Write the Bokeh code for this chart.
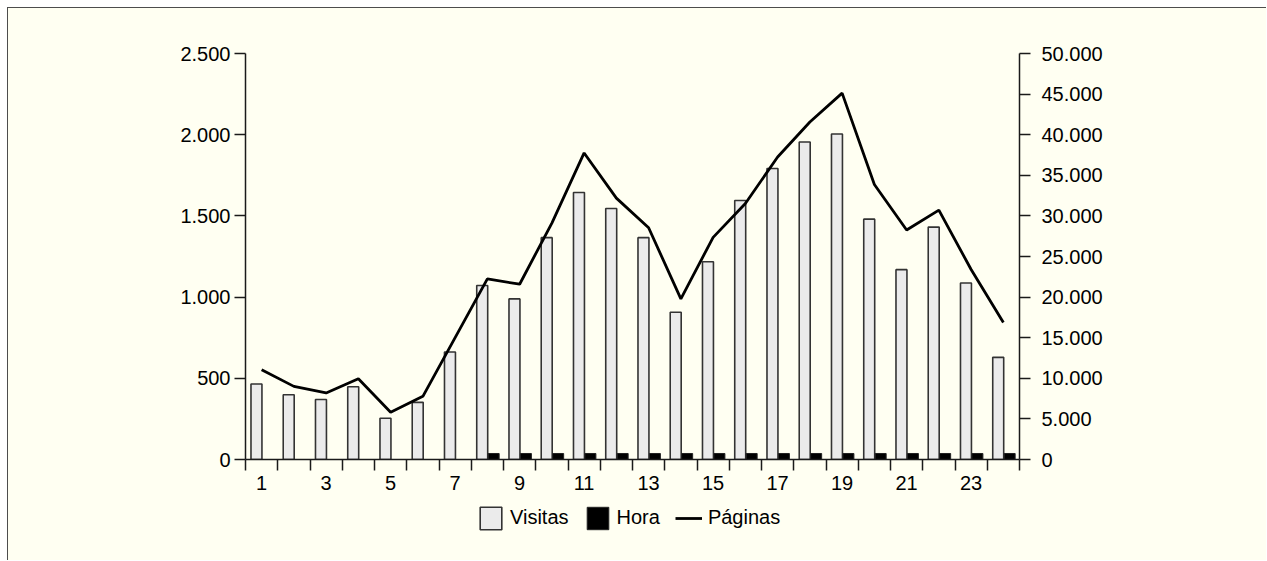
import numpy as np
from bokeh.plotting import figure
from bokeh.layouts import column
from bokeh.models import (Range1d, LinearAxis, FixedTicker, Legend, LegendItem,
                          ColumnDataSource)
from bokeh.transform import dodge
from bokeh.embed import file_html
from bokeh.resources import INLINE

# ---- data ----
hours = list(range(1, 25))
visitas = [465, 399, 369, 448, 254, 352, 662, 1071, 989, 1366, 1644, 1546,
           1366, 907, 1218, 1595, 1792, 1955, 2004, 1480, 1169, 1431, 1087, 629]
hora = [np.nan, np.nan, np.nan, np.nan, np.nan, np.nan, np.nan, 37, 37, 37, 37, 37,
        37, 37, 37, 37, 37, 37, 37, 37, 37, 37, 37, 37]
paginas = [11057, 9005, 8194, 9951, 5811, 7776, 15000, 22236, 21585, 29115, 37752, 32187,
           28538, 19779, 27359, 31536, 37260, 41560, 45123, 33870, 28256, 30713, 23400, 16867]

left_ticks = [0, 500, 1000, 1500, 2000, 2500]
left_labels = ["0", "500", "1.000", "1.500", "2.000", "2.500"]
right_ticks = [0, 5000, 10000, 15000, 20000, 25000, 30000, 35000, 40000, 45000, 50000]
right_labels = ["0", "5.000", "10.000", "15.000", "20.000", "25.000", "30.000",
                "35.000", "40.000", "45.000", "50.000"]
x_label_hours = [1, 3, 5, 7, 9, 11, 13, 15, 17, 19, 21, 23]
x_labels = ["1", "3", "5", "7", "9", "11", "13", "15", "17", "19", "21", "23"]
series_names = ["Visitas", "Hora", "Páginas"]

BG = "#fffff2"
FONT = "Liberation Sans"
AX = "#1a1a1a"
VIS_FILL, VIS_LINE = "#ebebeb", "#333333"
HORA_FILL, HORA_LINE = "#000000", "#222222"

W = 1258
fig = figure(width=W, height=495, x_range=Range1d(0.5, 24.5), y_range=Range1d(0, 2500),
             output_backend="svg", toolbar_location=None,
             min_border_left=237, min_border_right=247, min_border_top=45, min_border_bottom=44)
fig.extra_y_ranges = {"right": Range1d(0, 50000)}
fig.background_fill_color = BG
fig.border_fill_color = BG
fig.outline_line_color = None
fig.xgrid.visible = False
fig.ygrid.visible = False


def style_axis(ax, standoff):
    ax.axis_line_color = AX
    ax.axis_line_width = 1.5
    ax.major_tick_line_color = AX
    ax.major_tick_line_width = 1.5
    ax.minor_tick_line_color = AX
    ax.minor_tick_line_width = 1.5
    ax.major_label_text_font = FONT
    ax.major_label_text_font_size = "20px"
    ax.major_label_text_color = "black"
    ax.major_label_standoff = standoff


yax = fig.yaxis[0]
yax.ticker = FixedTicker(ticks=left_ticks)
yax.major_label_overrides = dict(zip(left_ticks, left_labels))
style_axis(yax, 4)
yax.major_tick_out = 11
yax.major_tick_in = 0
yax.minor_tick_out = 0
yax.minor_tick_in = 0

xax = fig.xaxis[0]
xax.ticker = FixedTicker(ticks=x_label_hours, minor_ticks=[h - 0.5 for h in hours] + [hours[-1] + 0.5])
xax.major_label_overrides = dict(zip(x_label_hours, x_labels))
style_axis(xax, 5)
xax.major_tick_out = 0
xax.major_tick_in = 0
xax.minor_tick_out = 11
xax.minor_tick_in = 0

rax = LinearAxis(y_range_name="right", ticker=FixedTicker(ticks=right_ticks))
rax.major_label_overrides = dict(zip(right_ticks, right_labels))
style_axis(rax, 11)
rax.major_tick_out = 11
rax.major_tick_in = 0
rax.minor_tick_out = 0
rax.minor_tick_in = 0
fig.add_layout(rax, "right")

src = ColumnDataSource(dict(hour=hours, visitas=visitas, hora=hora, paginas=paginas))
fig.vbar(x=dodge("hour", -0.16), top="visitas", width=0.34, source=src,
         fill_color=VIS_FILL, line_color=VIS_LINE, line_width=1.6)
fig.vbar(x=dodge("hour", 0.195), top="hora", width=0.34, source=src,
         fill_color=HORA_FILL, line_color=HORA_LINE, line_width=1)
fig.line(x="hour", y="paginas", y_range_name="right", source=src,
         line_color="black", line_width=2.8)

# ---- legend strip below the chart (frames are aligned by the column) ----
lf = figure(width=W, height=57, x_range=Range1d(0, 1), y_range=Range1d(0, 1),
            output_backend="svg", toolbar_location=None,
            min_border_left=237, min_border_right=247, min_border_top=0, min_border_bottom=0)
lf.axis.visible = False
lf.grid.visible = False
lf.outline_line_color = None
lf.background_fill_color = BG
lf.border_fill_color = BG
# proxy renderers: no visible data, only used for legend swatches
proxy = ColumnDataSource(dict(x=[np.nan, np.nan], y=[np.nan, np.nan]))
lv = lf.vbar(x="x", top="y", width=0.1, source=proxy,
             fill_color=VIS_FILL, line_color=VIS_LINE, line_width=1.6)
lh = lf.vbar(x="x", top="y", width=0.1, source=proxy,
             fill_color=HORA_FILL, line_color=HORA_LINE, line_width=1)
ll = lf.line(x="x", y="y", source=proxy, line_color="black", line_width=2.8)

legend = Legend(items=[LegendItem(label=series_names[0], renderers=[lv]),
                       LegendItem(label=series_names[1], renderers=[lh]),
                       LegendItem(label=series_names[2], renderers=[ll])],
                orientation="horizontal", location=(232, 28.5),
                border_line_color=None, background_fill_alpha=0,
                glyph_width=27, glyph_height=28, label_standoff=6, spacing=15,
                label_text_font=FONT, label_text_font_size="20px",
                label_text_color="black", padding=0, margin=0)
lf.add_layout(legend, "center")

p = column(fig, lf, styles={"margin-left": "7px", "margin-top": "7px",
                            "border-top": "1.5px solid #4d4d4d",
                            "border-left": "1.5px solid #4d4d4d",
                            "background-color": BG})

open("out.html", "w").write(file_html(p, INLINE))
